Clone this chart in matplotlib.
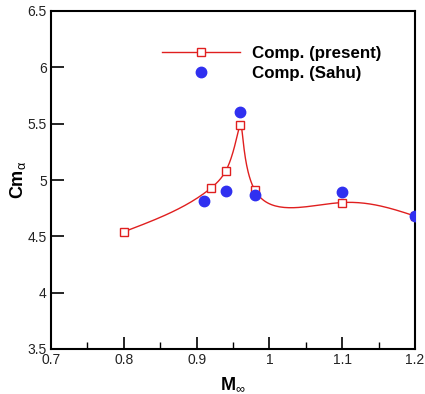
import numpy as np
import matplotlib
matplotlib.use("Agg")
import matplotlib.pyplot as plt
from matplotlib.ticker import MultipleLocator

plt.rcParams.update({
    "font.family": ["Liberation Sans", "DejaVu Sans"],
    "mathtext.fontset": "custom",
    "mathtext.rm": "Liberation Sans",
    "mathtext.it": "Liberation Sans",
})

# Cm_alpha vs free-stream Mach number
mach_present = [0.80, 0.92, 0.94, 0.96, 0.98, 1.10, 1.20]
cma_present = [4.54, 4.93, 5.08, 5.49, 4.91, 4.80, 4.68]

mach_sahu = [0.91, 0.94, 0.96, 0.98, 1.10, 1.20]
cma_sahu = [4.81, 4.90, 5.60, 4.87, 4.89, 4.68]

RED = "#e01f1f"
BLUE = "#3030f0"


def param_spline(x, y, sx=728.0, sy=112.7, n=40):
    """Natural cubic spline through (x, y), parametrised by chord length."""
    px = np.asarray(x) * sx
    py = np.asarray(y) * sy
    t = np.concatenate([[0], np.cumsum(np.hypot(np.diff(px), np.diff(py)))])
    def nat(tk, v):
        m = len(tk)
        h = np.diff(tk)
        A = np.zeros((m, m))
        b = np.zeros(m)
        A[0, 0] = A[-1, -1] = 1
        for i in range(1, m - 1):
            A[i, i - 1] = h[i - 1]
            A[i, i] = 2 * (h[i - 1] + h[i])
            A[i, i + 1] = h[i]
            b[i] = 6 * ((v[i + 1] - v[i]) / h[i] - (v[i] - v[i - 1]) / h[i - 1])
        M = np.linalg.solve(A, b)
        out = []
        for i in range(m - 1):
            s = np.linspace(tk[i], tk[i + 1], n)
            a, c = tk[i + 1] - s, s - tk[i]
            hi = h[i]
            out.append(M[i] * a**3 / (6 * hi) + M[i + 1] * c**3 / (6 * hi)
                       + (v[i] / hi - M[i] * hi / 6) * a
                       + (v[i + 1] / hi - M[i + 1] * hi / 6) * c)
        return np.concatenate(out)
    return nat(t, px) / sx, nat(t, py) / sy


fig = plt.figure(figsize=(4.25, 3.94), dpi=100)
ax = fig.add_axes([51 / 425, 1 - 349 / 394, 364 / 425, 338 / 394])

sx, sy = param_spline(mach_present, cma_present)
ax.plot(sx, sy, color=RED, lw=1.0, zorder=2)
ax.plot(mach_present, cma_present, ls="none", marker="s", ms=6,
        mfc="white", mec=RED, mew=1.0, zorder=3)
ax.plot(mach_sahu, cma_sahu, ls="none", marker="o", ms=7.5,
        mfc=BLUE, mec=BLUE, zorder=4)

# legend entries drawn as proxy artists
h1, = ax.plot([], [], color=RED, lw=1.0, marker="s", ms=6, mfc="white",
              mec=RED, mew=1.0)
h2, = ax.plot([], [], ls="none", marker="o", ms=7.5, mfc=BLUE, mec=BLUE)
ax.legend([h1, h2], ["Comp. (present)", "Comp. (Sahu)"],
          loc="upper left", bbox_to_anchor=(0.267, 0.936), frameon=False,
          handlelength=4.6, handletextpad=0.75, labelspacing=0.3,
          borderpad=0.3, prop={"weight": "bold", "size": 12.2})

ax.set_xlim(0.7, 1.2)
ax.set_ylim(3.5, 6.5)
ax.xaxis.set_minor_locator(MultipleLocator(0.05))
ax.set_xticks(np.arange(0.7, 1.21, 0.1))
ax.set_xticklabels(["0.7", "0.8", "0.9", "1", "1.1", "1.2"])
ax.set_yticks(np.arange(3.5, 6.51, 0.5))
ax.set_yticklabels(["3.5", "4", "4.5", "5", "5.5", "6", "6.5"])
ax.tick_params(which="major", direction="in", length=9, width=1.2,
               labelsize=10, pad=3, top=False, right=False,
               colors="black", labelcolor="#222222")
ax.tick_params(which="minor", direction="in", length=5, width=1.0,
               top=False, right=False)
for s in ax.spines.values():
    s.set_linewidth(1.5)

ax.set_xlabel(r"M$_{\infty}$", fontsize=13, fontweight="bold", labelpad=6)
ax.set_ylabel(r"Cm$_{\alpha}$", fontsize=13, fontweight="bold")
ax.yaxis.set_label_coords(-0.062, 0.5)

fig.savefig("out.png", dpi=100)
